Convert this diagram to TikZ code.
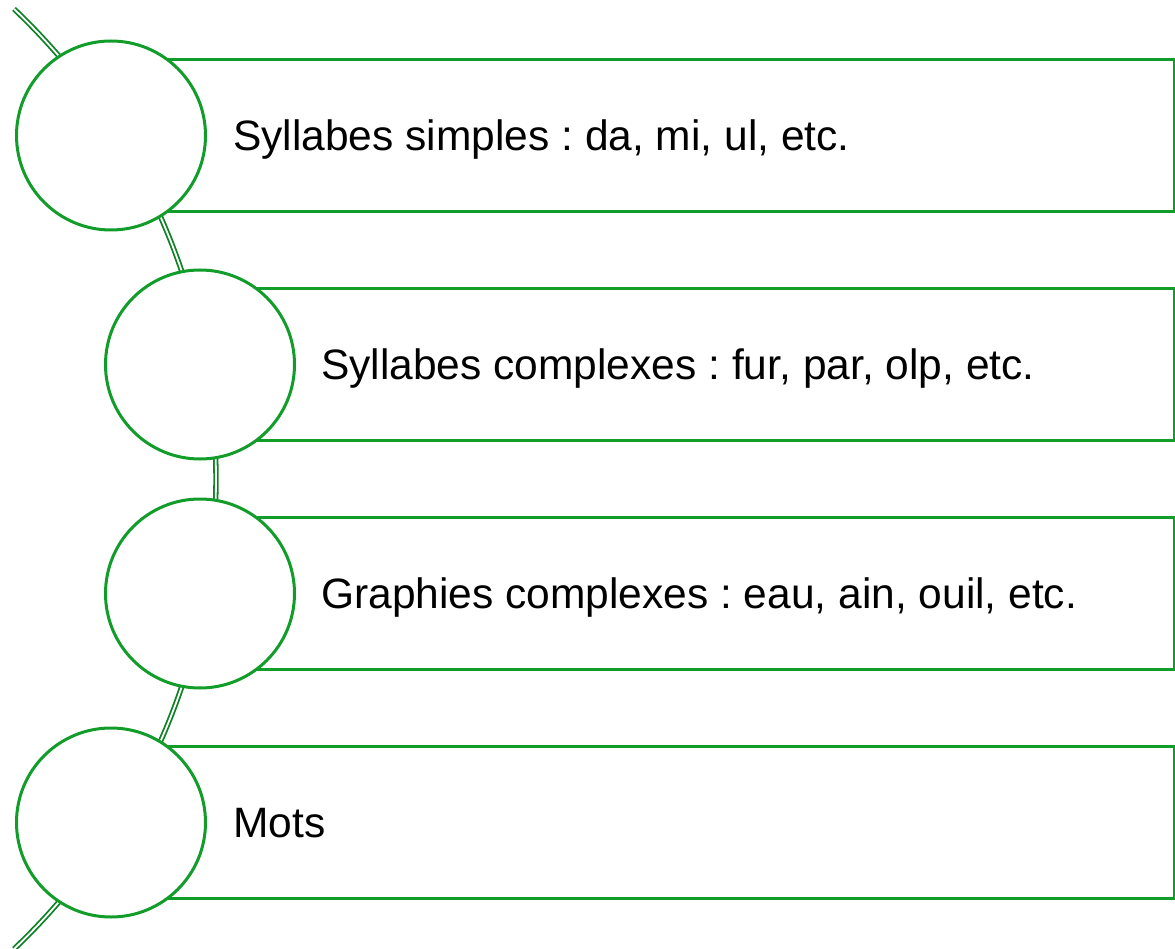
\documentclass[tikz,border=0pt]{standalone}
\usepackage{fontspec}
\setmainfont{Liberation Sans}
\usetikzlibrary{calc}
\definecolor{grn}{RGB}{18,156,42}
\definecolor{dgrn}{RGB}{14,130,36}
\frenchspacing
\begin{document}
\begin{tikzpicture}[x=1pt,y=-1pt,
  ring/.style={circle,draw=grn,line width=3pt,fill=white,minimum size=189pt,inner sep=0pt},
  band/.style={rectangle,draw=grn,line width=3pt,fill=white,minimum height=152pt,inner sep=0pt,anchor=west},
  lbl/.style={anchor=base west,inner sep=0pt,font=\fontsize{42.5}{50}\selectfont},
  spine/.style={draw=dgrn,double=white,line width=1.8pt,double distance=1.8pt}]
\useasboundingbox (0,0) rectangle (1175,949);
\coordinate (ctr) at (-432,479);
\coordinate (top) at ($(ctr)+(-46.5:648)$);
\draw[spine] (top) arc[start angle=-46.5,end angle=46.5,radius=648];
\node[band,minimum width=1062pt] (r1) at (111,135.5) {};
\node[band,minimum width=973pt] (r2) at (200,364.5) {};
\node[band,minimum width=973pt] (r3) at (200,593.5) {};
\node[band,minimum width=1062pt] (r4) at (111,822.5) {};
\node[ring] (c1) at (111,135.5) {};
\node[ring] (c2) at (200,364.5) {};
\node[ring] (c3) at (200,593.5) {};
\node[ring] (c4) at (111,822.5) {};
\node[lbl] (t1) at (233,150.5) {Syllabes simples : da, mi, ul, etc.};
\node[lbl] (t2) at (321,379.5) {Syllabes complexes : fur, par, olp, etc.};
\node[lbl] (t3) at (321,608.5) {Graphies complexes : eau, ain, ouil, etc.};
\node[lbl] (t4) at (233,837.5) {Mots};
\end{tikzpicture}
\end{document}
